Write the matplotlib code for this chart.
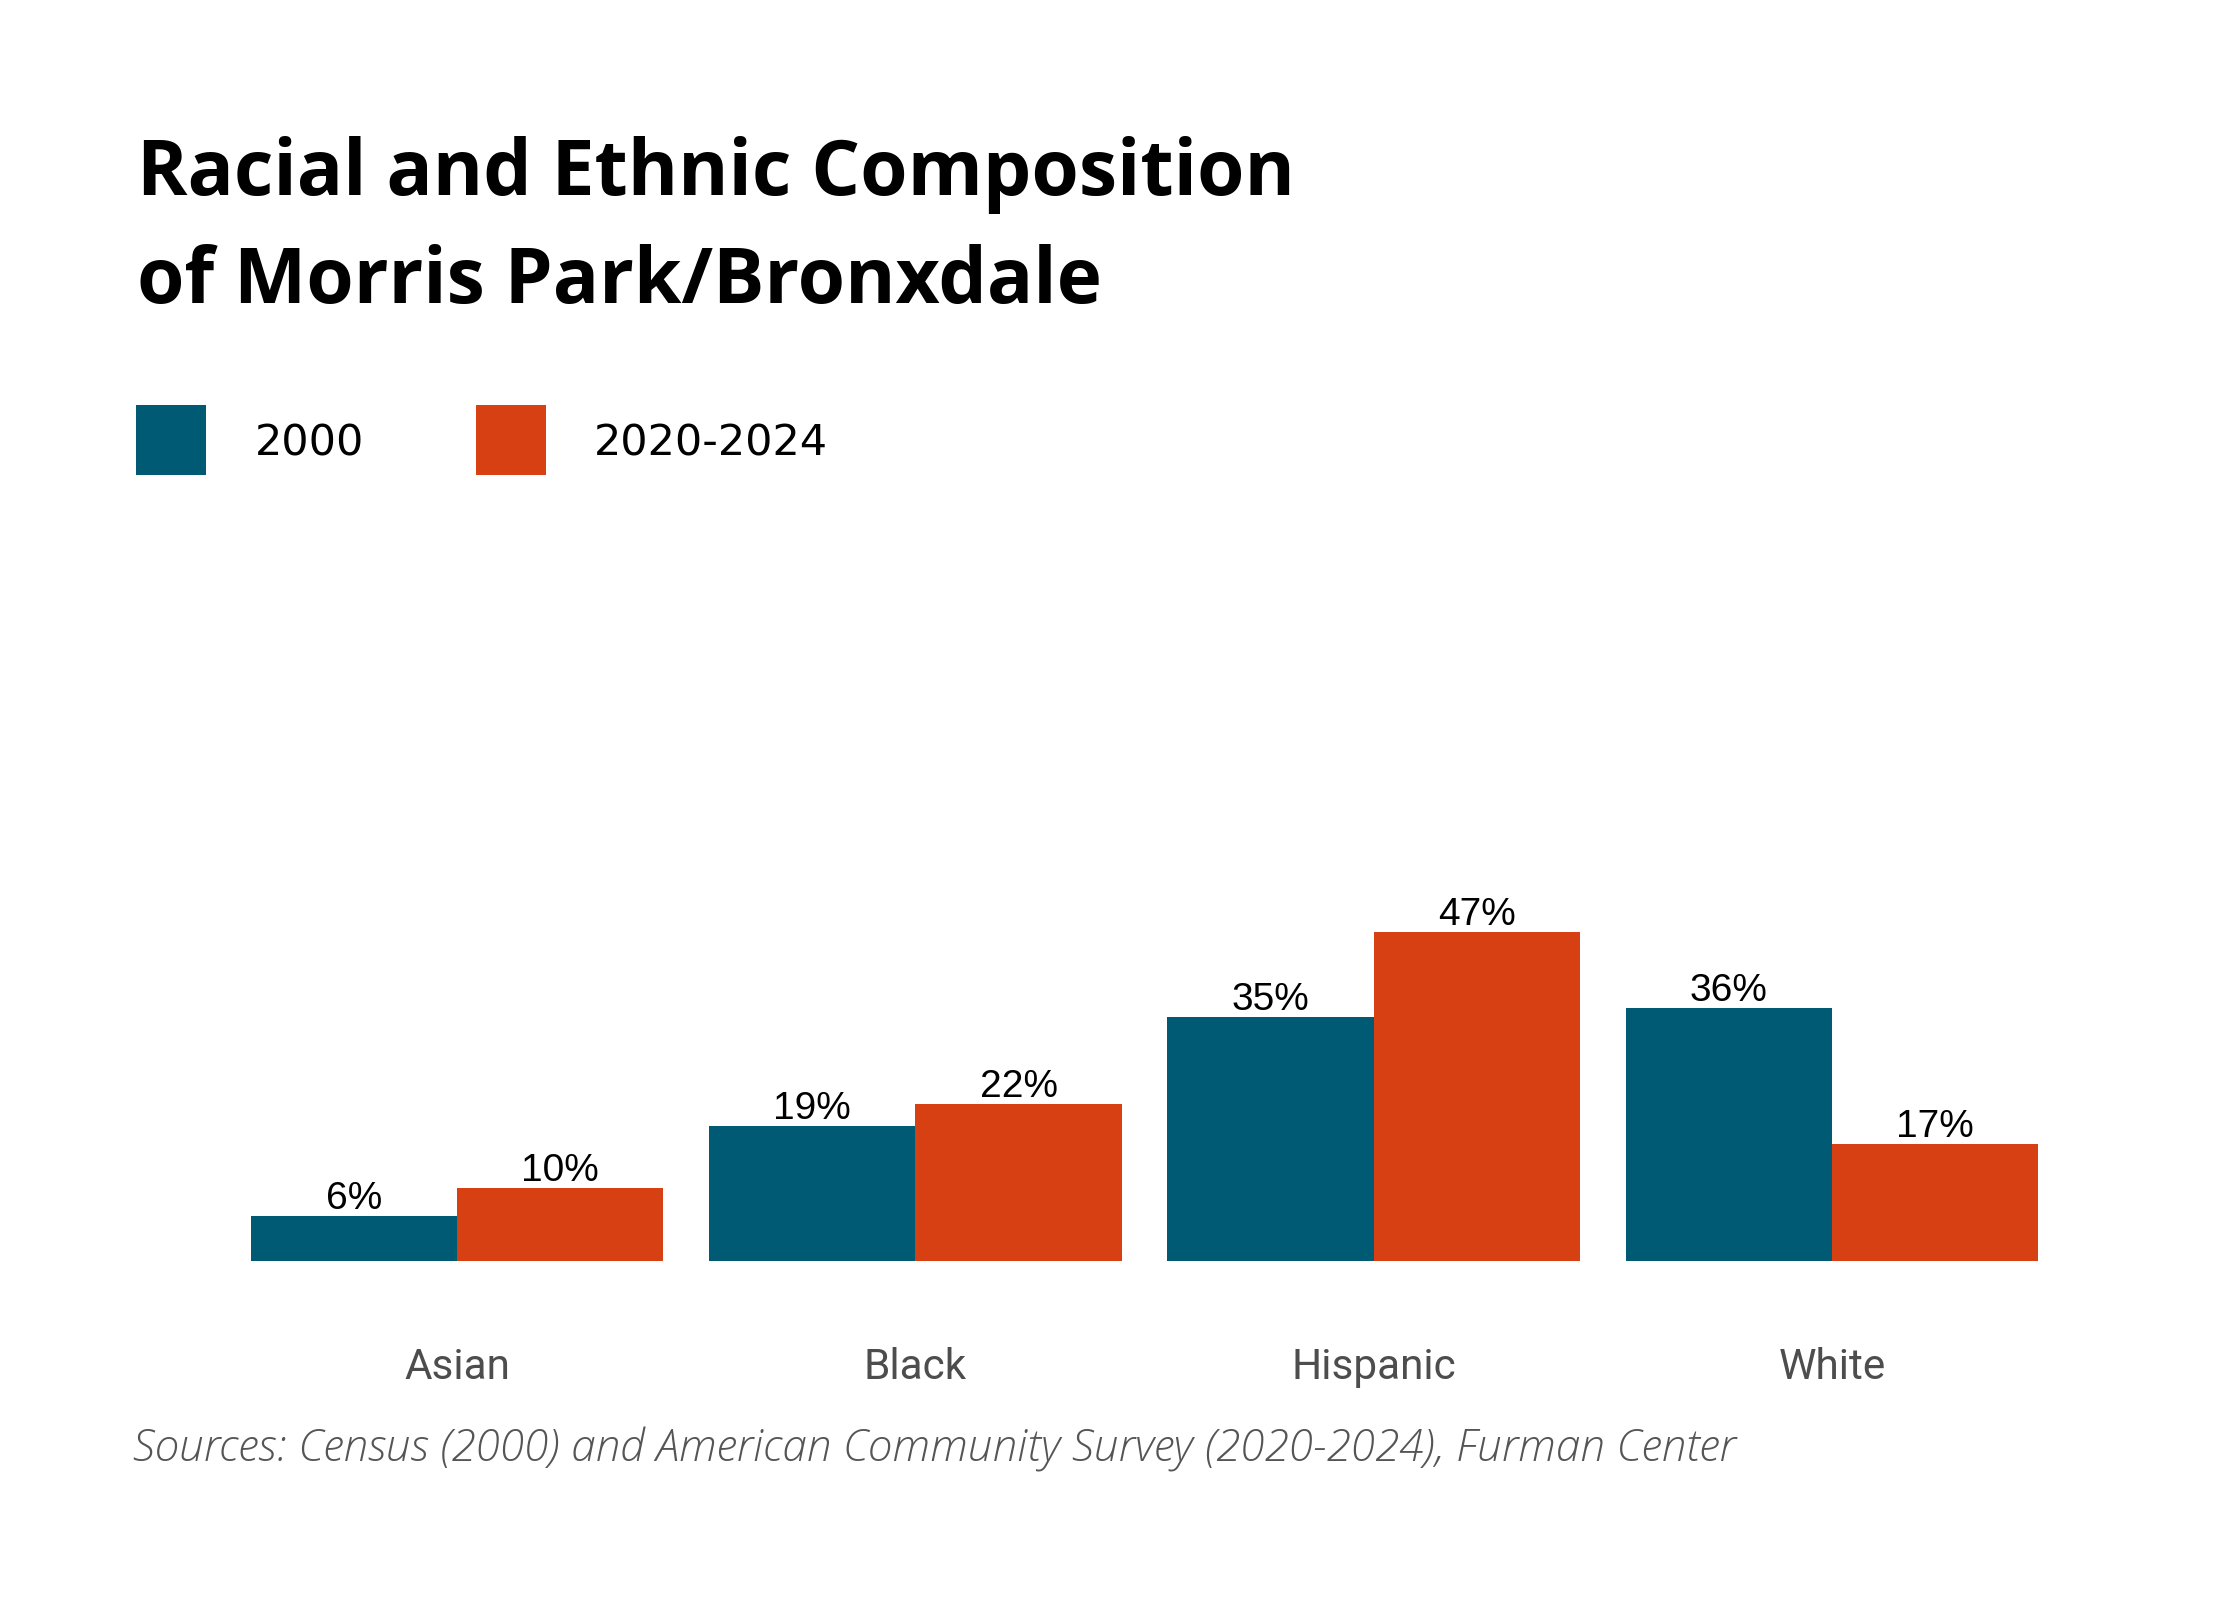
import numpy as np
import matplotlib
matplotlib.use("Agg")
import matplotlib.pyplot as plt
from matplotlib.patches import Rectangle

# ---------------------------------------------------------
# DATA
# ---------------------------------------------------------
categories = ["Asian", "Black", "Hispanic", "White"]
series_names = ["2000", "2020-2024"]
share_2000 = [6.4, 19.2, 34.8, 36.1]
share_2020_2024 = [10.4, 22.4, 47.0, 16.7]

title_lines = ["Racial and Ethnic Composition", "of Morris Park/Bronxdale"]
source_text = "Sources: Census (2000) and American Community Survey (2020-2024), Furman Center"

# ---------------------------------------------------------
# STYLE
# ---------------------------------------------------------
BLUE = "#005a74"
ORANGE = "#d64012"
BAR_W = 0.45

fig = plt.figure(figsize=(11.2, 8), dpi=200)
fig.patch.set_facecolor("white")

ax = fig.add_axes([0.1018, 0.2121, 0.8183, 0.2188])
x = np.arange(len(categories))

bars_a = ax.bar(x - BAR_W / 2, share_2000, BAR_W, color=BLUE, linewidth=0)
bars_b = ax.bar(x + BAR_W / 2, share_2020_2024, BAR_W, color=ORANGE, linewidth=0)

for bars, vals in ((bars_a, share_2000), (bars_b, share_2020_2024)):
    for b, v in zip(bars, vals):
        ax.annotate(f"{v:.0f}%", (b.get_x() + b.get_width() / 2, v),
                    xytext=(0, 2.5), textcoords="offset points",
                    ha="center", va="baseline", fontsize=14,
                    family="Liberation Sans", color="black")

for xi, cat in zip(x, categories):
    ax.annotate(cat, (xi, 0), xycoords=("data", "data"),
                xytext=(0, -42.5), textcoords="offset points",
                ha="center", va="baseline", fontsize=15.2,
                family="Roboto", color="#4d4d4d")

ax.set_xlim(-0.5, len(categories) - 0.5)
ax.set_ylim(0, 50)
ax.axis("off")

# title
fig.text(0.061, 0.8781, title_lines[0], fontsize=27.6, fontweight="bold",
         family="Open Sans", va="baseline", ha="left", color="black")
fig.text(0.061, 0.8106, title_lines[1], fontsize=27.6, fontweight="bold",
         family="Open Sans", va="baseline", ha="left", color="black")

# legend
for name, col, sx, tx in ((series_names[0], BLUE, 0.0607, 0.1138),
                          (series_names[1], ORANGE, 0.2125, 0.2652)):
    fig.patches.append(Rectangle((sx, 0.7031), 0.03125, 0.04375,
                                 transform=fig.transFigure, color=col, lw=0))
    fig.text(tx, 0.7231, name, fontsize=15.5, family="DejaVu Sans", va="center",
             ha="left", color="black")

# source
fig.text(0.0594, 0.08625, source_text, fontsize=15.9, family="Open Sans",
         fontweight="light", style="italic", color="#555555",
         va="baseline", ha="left")

fig.savefig("out.png", dpi=200, facecolor="white")
